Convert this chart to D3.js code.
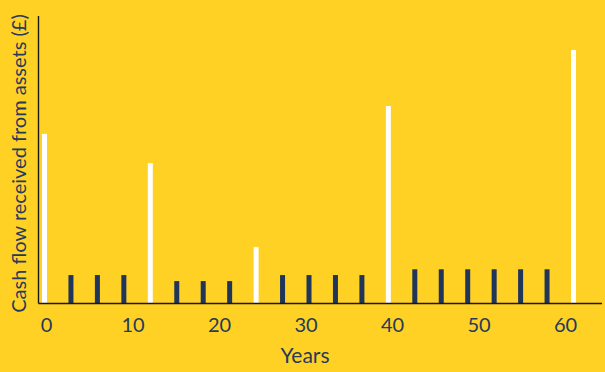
<!DOCTYPE html>
<html><head><meta charset="utf-8">
<script src="https://cdn.jsdelivr.net/npm/d3@7"></script>
<style>
html,body{margin:0;padding:0;background:#FFD124;}
svg{display:block;}
text{font-family:Lato,"Open Sans",sans-serif;fill:#263a5c;}
</style></head>
<body><svg id="chart" width="605" height="372"></svg>
<script>
// Payment dates (years) of each cash flow bar
const payYears = [0, 3, 6, 9, 12, 15, 18, 21, 24, 27, 30, 33, 36, 39, 42, 45, 48, 51, 54, 57, 60];
// Cash flow received (relative units; no y ticks shown)
const cashFlow = [59, 9.9, 9.9, 9.9, 48.8, 7.8, 7.8, 7.8, 19.6, 9.9, 9.9, 9.9, 9.9, 68.7, 11.9, 11.9, 11.9, 11.9, 11.9, 11.9, 88.2];
// Type of flow: "asset" = white bars, "income" = navy bars
const flowType = ["asset","income","income","income","asset","income","income","income","asset","income","income","income","income","asset","income","income","income","income","income","income","asset"];
const xTicks = [0, 10, 20, 30, 40, 50, 60];
const xTitle = "Years";
const yTitle = "Cash flow received from assets (£)";

const svg = d3.select("#chart");
const W = 605, H = 372;
const x0 = 38.5, baseY = 303.5, topY = 16;

// bars are placed on a point scale of payment dates
const xBar = d3.scalePoint().domain(payYears).range([44.5, 573.5]);
// axis labels on a linear scale of years
const xAxisScale = d3.scaleLinear().domain([0, 60]).range([46, 565]);
const y = d3.scaleLinear().domain([0, 100]).range([baseY, topY]);

const colors = {asset: "#FFFFFF", income: "#1F3559"};
const bw = 5;

svg.append("g").selectAll("rect").data(payYears).join("rect")
  .attr("x", (d) => xBar(d) - bw / 2)
  .attr("width", bw)
  .attr("y", (d, i) => y(cashFlow[i]))
  .attr("height", (d, i) => y(0) - y(cashFlow[i]))
  .attr("fill", (d, i) => colors[flowType[i]]);

// axes lines
svg.append("line").attr("x1", x0).attr("x2", 602).attr("y1", baseY).attr("y2", baseY)
  .attr("stroke", "#1a1a1a").attr("stroke-width", 1.6);
svg.append("line").attr("x1", x0).attr("x2", x0).attr("y1", topY).attr("y2", baseY)
  .attr("stroke", "#1a1a1a").attr("stroke-width", 1.4);

// x tick labels
const ax = svg.append("g").attr("transform", `translate(0,${baseY})`)
  .call(d3.axisBottom(xAxisScale).tickValues(xTicks).tickSize(0).tickPadding(0).tickFormat(d3.format("d")));
ax.select(".domain").remove();
ax.selectAll("text").attr("font-size", 20).attr("dy", null).attr("y", 28.5)
  .style("font-family", "Lato, sans-serif").attr("fill", "#263a5c");

svg.append("text").attr("x", 305).attr("y", 363).attr("text-anchor", "middle")
  .attr("font-size", 21).text(xTitle);

svg.append("text").attr("transform", "translate(26,163.5) rotate(-90)")
  .attr("text-anchor", "middle").attr("font-size", 20).text(yTitle);
</script></body></html>
